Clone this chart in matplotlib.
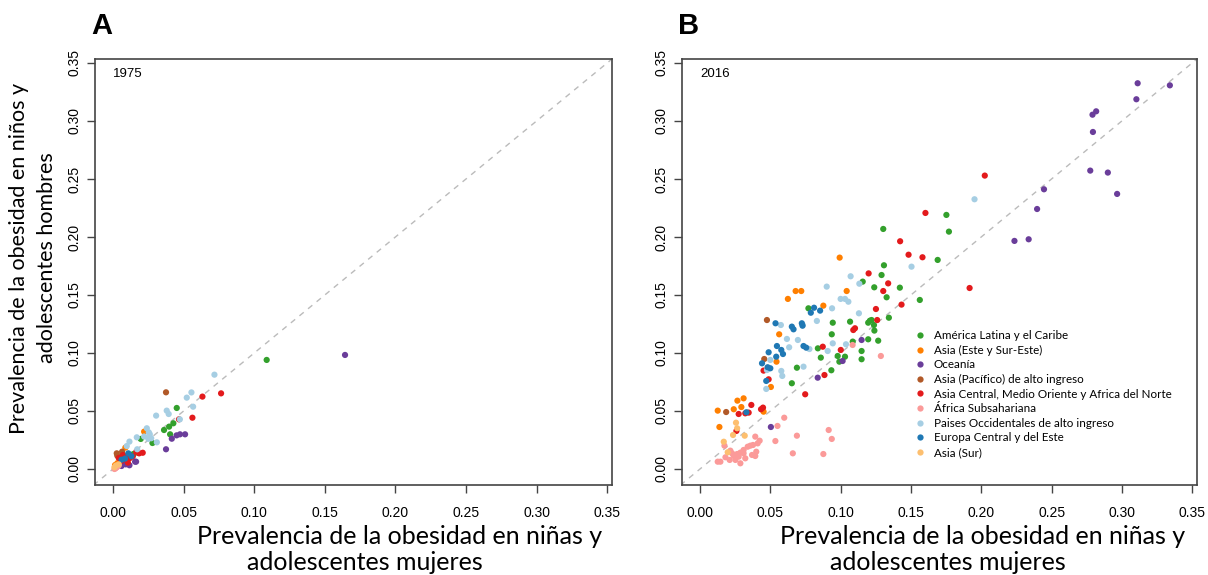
import matplotlib
matplotlib.use('Agg')
import matplotlib.pyplot as plt
from matplotlib.lines import Line2D

# regions (legend order) and colours
regions = ['América Latina y el Caribe', 'Asia (Este y Sur-Este)', 'Oceanía',
           'Asia (Pacífico) de alto ingreso',
           'Asia Central, Medio Oriente y Africa del Norte', 'África Subsahariana',
           'Paises Occidentales de alto ingreso', 'Europa Central y del Este', 'Asia (Sur)']
colors = ['#33A02C', '#FF7F00', '#6A3D9A', '#B15928', '#E31A1C', '#FB9A99',
          '#A6CEE3', '#1F78B4', '#FDBF6F']

ticks = [0.00, 0.05, 0.10, 0.15, 0.20, 0.25, 0.30, 0.35]

# ---- 1975: (girls, boys) prevalence per country ----
a_latam = [(0.1088, 0.094), (0.0451, 0.0526), (0.0427, 0.0394), (0.0397, 0.0365),
           (0.0361, 0.0336), (0.0404, 0.0299), (0.0196, 0.0259), (0.0279, 0.0224),
           (0.0144, 0.0129), (0.0175, 0.014), (0.009, 0.008), (0.012, 0.010)]
a_asia_e = [(0.022, 0.0322), (0.0087, 0.0184), (0.0014, 0.002), (0.0014, 0.0034),
            (0.003, 0.005)]
a_oceania = [(0.1643, 0.0983), (0.0474, 0.0299), (0.051, 0.0299), (0.045, 0.029),
             (0.0416, 0.0261), (0.0375, 0.017), (0.0156, 0.0063), (0.0116, 0.0032),
             (0.006, 0.0026), (0.0163, 0.0063), (0.005, 0.004), (0.009, 0.004)]
a_asia_pac = [(0.0375, 0.0661), (0.0064, 0.0149), (0.003, 0.0115), (0.0026, 0.0135)]
a_mena = [(0.0633, 0.0624), (0.0765, 0.0652), (0.0562, 0.0442), (0.0467, 0.0428),
          (0.021, 0.014), (0.004, 0.0095), (0.006, 0.007), (0.0085, 0.011),
          (0.0105, 0.0055), (0.012, 0.0095), (0.0185, 0.0135), (0.0165, 0.015),
          (0.007, 0.012), (0.014, 0.011)]
a_africa = [(0.001, 0.000), (0.002, 0.001), (0.003, 0.002), (0.0015, 0.0005),
            (0.004, 0.003), (0.0025, 0.0015)]
a_west = [(0.0718, 0.0813), (0.0555, 0.066), (0.0522, 0.0615), (0.0567, 0.0537),
          (0.038, 0.0503), (0.0394, 0.0474), (0.0305, 0.046), (0.0473, 0.0428),
          (0.0239, 0.0351), (0.0253, 0.0316), (0.0168, 0.0273), (0.025, 0.026),
          (0.027, 0.0265), (0.031, 0.023), (0.0116, 0.0236), (0.0097, 0.0198),
          (0.0171, 0.017), (0.022, 0.028), (0.026, 0.03)]
a_europe = [(0.0108, 0.0135), (0.0085, 0.009), (0.013, 0.011), (0.006, 0.008)]
a_asia_s = [(0.002, 0.003), (0.004, 0.004), (0.001, 0.0015)]

# ---- 2016 ----
b_latam = [(0.0771, 0.1385), (0.1157, 0.1615), (0.1327, 0.148), (0.0944, 0.1261),
           (0.1067, 0.127), (0.1196, 0.1261), (0.1208, 0.1278), (0.122, 0.1284),
           (0.1237, 0.1241), (0.1343, 0.1304), (0.0937, 0.1161), (0.1086, 0.1098),
           (0.1196, 0.1118), (0.1267, 0.1106), (0.0838, 0.104), (0.0859, 0.096),
           (0.0979, 0.0974), (0.1031, 0.0968), (0.0991, 0.0925), (0.1149, 0.1017),
           (0.1149, 0.0946), (0.0689, 0.0873), (0.0934, 0.0851), (0.0653, 0.0739),
           (0.1752, 0.219), (0.177, 0.2046), (0.1303, 0.2069), (0.169, 0.1802),
           (0.1308, 0.1756), (0.1291, 0.1672), (0.1239, 0.1566), (0.1421, 0.1563),
           (0.1563, 0.1457), (0.124, 0.1193)]
b_asia_e = [(0.0625, 0.1466), (0.068, 0.1534), (0.072, 0.1534), (0.0877, 0.1408),
            (0.1043, 0.1534), (0.0563, 0.1161), (0.0544, 0.0925), (0.0504, 0.0707),
            (0.0266, 0.0589), (0.031, 0.0609), (0.024, 0.0515), (0.0294, 0.0534),
            (0.0126, 0.0503), (0.0452, 0.0494), (0.0138, 0.0362), (0.0993, 0.1822)]
b_oceania = [(0.1149, 0.1112), (0.1014, 0.0931), (0.0837, 0.0787), (0.0504, 0.0362),
             (0.3112, 0.3325), (0.3341, 0.3307), (0.3103, 0.3187), (0.2817, 0.3083),
             (0.2791, 0.3054), (0.2794, 0.2905), (0.2775, 0.2572), (0.29, 0.2555),
             (0.2966, 0.2371), (0.2446, 0.2411), (0.2397, 0.2241), (0.2337, 0.198),
             (0.2236, 0.1966)]
b_asia_pac = [(0.0476, 0.1284), (0.0457, 0.0948), (0.0186, 0.0491)]
b_mena = [(0.1338, 0.16), (0.1303, 0.1534), (0.1251, 0.1379), (0.126, 0.1284),
          (0.109, 0.1198), (0.1102, 0.1213), (0.0873, 0.1054), (0.1001, 0.1026),
          (0.0452, 0.0848), (0.0488, 0.0773), (0.0885, 0.081), (0.0748, 0.0644),
          (0.0365, 0.0552), (0.0434, 0.0515), (0.0448, 0.0529), (0.0275, 0.0474),
          (0.0322, 0.048), (0.0346, 0.0486), (0.0259, 0.0328), (0.2025, 0.2529),
          (0.1603, 0.2207), (0.1423, 0.1963), (0.1483, 0.1847), (0.1582, 0.1825),
          (0.1199, 0.1686), (0.1917, 0.156), (0.1433, 0.1417)]
b_africa = [(0.1085, 0.1069), (0.1286, 0.0974), (0.0599, 0.0442), (0.0551, 0.0371),
            (0.0915, 0.0336), (0.0937, 0.0259), (0.0689, 0.0287), (0.0536, 0.0241),
            (0.066, 0.0135), (0.0877, 0.0129), (0.0393, 0.0279), (0.0424, 0.0244),
            (0.041, 0.0221), (0.0358, 0.0201), (0.0377, 0.0207), (0.0339, 0.0192),
            (0.031, 0.0164), (0.0287, 0.0141), (0.0264, 0.0129), (0.024, 0.0112),
            (0.0275, 0.0106), (0.031, 0.0135), (0.0322, 0.0092), (0.037, 0.0121),
            (0.04, 0.0149), (0.0393, 0.0112), (0.0216, 0.0158), (0.0211, 0.0078),
            (0.0181, 0.0101), (0.0174, 0.0201), (0.0145, 0.0063), (0.0126, 0.0063),
            (0.0287, 0.0049), (0.0252, 0.0078), (0.0228, 0.0135)]
b_west = [(0.0901, 0.1572), (0.1, 0.1466), (0.1031, 0.1466), (0.1055, 0.1442),
          (0.113, 0.1342), (0.0939, 0.1385), (0.0831, 0.1276), (0.0575, 0.1241),
          (0.0731, 0.1241), (0.0618, 0.1121), (0.0696, 0.1112), (0.0634, 0.1049),
          (0.0778, 0.1034), (0.0944, 0.1083), (0.0908, 0.1017), (0.1038, 0.1075),
          (0.05, 0.094), (0.0476, 0.0853), (0.0578, 0.0845), (0.0585, 0.0802),
          (0.0736, 0.0882), (0.0471, 0.069), (0.1952, 0.2325), (0.1504, 0.1744),
          (0.1071, 0.1661), (0.1133, 0.1597)]
b_europe = [(0.0537, 0.1256), (0.0653, 0.1227), (0.0665, 0.1204), (0.0724, 0.1256),
            (0.0811, 0.139), (0.0788, 0.1347), (0.0854, 0.1365), (0.0547, 0.106),
            (0.0578, 0.1026), (0.059, 0.0991), (0.0542, 0.0968), (0.0488, 0.1006),
            (0.0441, 0.0911), (0.0481, 0.0877), (0.05, 0.0868), (0.0471, 0.0759),
            (0.0755, 0.1046), (0.0736, 0.106), (0.033, 0.0489), (0.0729, 0.1235)]
b_asia_s = [(0.0256, 0.0399), (0.0264, 0.0351), (0.0235, 0.0293), (0.0318, 0.0287),
            (0.0169, 0.0235), (0.0197, 0.0144)]

data_a = [a_latam, a_asia_e, a_oceania, a_asia_pac, a_mena, a_africa, a_west, a_europe, a_asia_s]
data_b = [b_latam, b_asia_e, b_oceania, b_asia_pac, b_mena, b_africa, b_west, b_europe, b_asia_s]

fig = plt.figure(figsize=(12.08, 5.75), dpi=100)
W, H = 1208.0, 575.0


def panel(left, right, data, year, letter):
    ax = fig.add_axes([left / W, 90 / H, (right - left) / W, 426 / H])
    ax.plot([-0.02, 0.37], [-0.02, 0.37], ls=(0, (4, 4)), color='#BBBBBB', lw=1, zorder=1)
    for pts, c in zip(data, colors):
        xs = [p[0] for p in pts]
        ys = [p[1] for p in pts]
        ax.scatter(xs, ys, s=20, color=c, edgecolors='none', zorder=2)
    ax.set_xlim(-0.0128, 0.3534)
    ax.set_ylim(-0.0138, 0.3534)
    ax.set_xticks(ticks)
    ax.set_yticks(ticks)
    ax.set_xticklabels(['%.2f' % t for t in ticks], fontfamily='Liberation Sans', fontsize=10)
    ax.set_yticklabels(['%.2f' % t for t in ticks], fontfamily='Liberation Sans', fontsize=10,
                       rotation=90, va='center')
    ax.tick_params(axis='x', length=6, width=1, pad=9, color='#444444')
    ax.tick_params(axis='y', length=6, width=1, pad=4, color='#444444')
    for s in ax.spines.values():
        s.set_color('#444444')
        s.set_linewidth(1.2)
    ax.text(0.035, 0.965, year, transform=ax.transAxes, fontsize=9.5,
            fontfamily='Liberation Sans', va='center', ha='left')
    fig.text((left - 4) / W, 1 - 26 / H, letter, fontsize=21, fontweight='bold',
             fontfamily='Liberation Sans', va='center', ha='left')
    return ax


ax1 = panel(95, 612, data_a, '1975', 'A')
ax2 = panel(682, 1197, data_b, '2016', 'B')

handles = [Line2D([], [], ls='none', marker='o', ms=4.5, mec='none', mfc=c) for c in colors]
leg = ax2.legend(handles, regions, loc='upper left',
                 bbox_to_anchor=((915 - 682) / 515., (485 - 330) / 426.),
                 frameon=False, prop={'family': 'Lato', 'size': 8.4}, handlelength=0.9,
                 handletextpad=0.7, labelspacing=0.31, borderaxespad=0, borderpad=0)

lab = dict(fontfamily='Lato', fontsize=18, ha='center', va='center')
fig.text(400 / W, 1 - 536 / H, 'Prevalencia de la obesidad en niñas y', **lab)
fig.text(365 / W, 1 - 562 / H, 'adolescentes mujeres', **lab)
fig.text(983 / W, 1 - 536 / H, 'Prevalencia de la obesidad en niñas y', **lab)
fig.text(948 / W, 1 - 562 / H, 'adolescentes mujeres', **lab)
laby = dict(lab, fontsize=15.5)
fig.text(19 / W, 1 - 258 / H, 'Prevalencia de la obesidad en niños y', rotation=90, **laby)
fig.text(47 / W, 1 - 258 / H, 'adolescentes hombres', rotation=90, **laby)

fig.savefig('out.png', dpi=100)
